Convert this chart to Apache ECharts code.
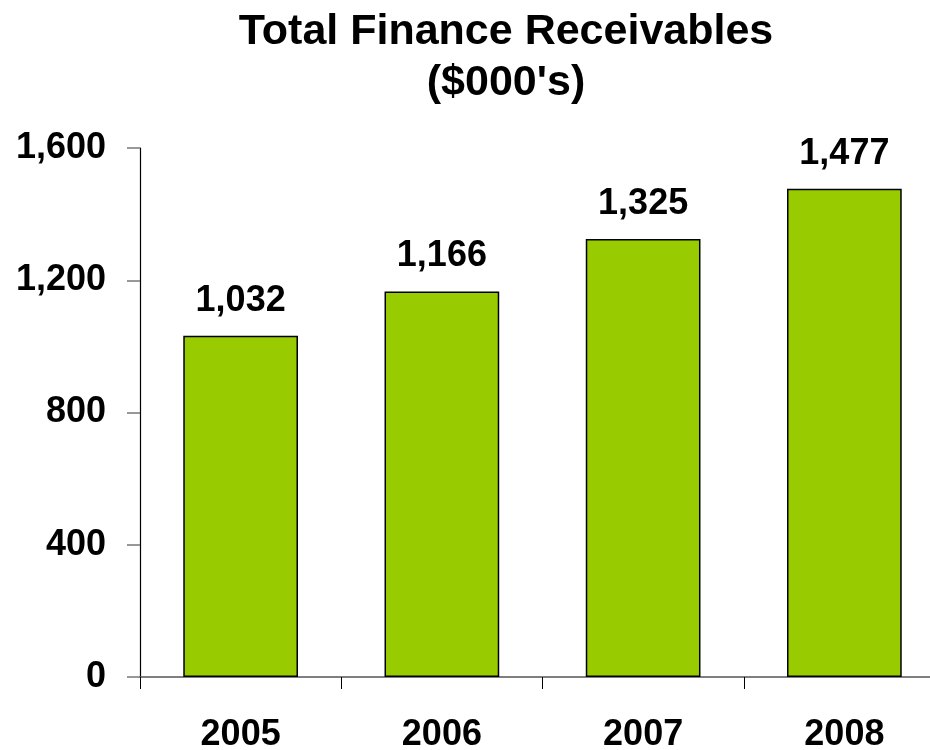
<!DOCTYPE html>
<html>
<head>
<meta charset="utf-8">
<script src="https://cdn.jsdelivr.net/npm/echarts@6/dist/echarts.min.js"></script>
<style>html,body{margin:0;padding:0;background:#fff}#c{width:930px;height:750px}</style>
</head>
<body>
<div id="c"></div>
<script>
const categories = ['2005', '2006', '2007', '2008'];
const values = [1032, 1166, 1325, 1477];
const titleText = 'Total Finance Receivables';
const subtitleText = "($000's)";

const FONT = '"Liberation Sans", Arial, sans-serif';
const chart = echarts.init(document.getElementById('c'));
chart.setOption({
  backgroundColor: '#fff',
  animation: false,
  title: {
    text: titleText,
    subtext: subtitleText,
    left: 501,
    top: 2,
    textAlign: 'center',
    itemGap: 1,
    textStyle: { fontFamily: FONT, fontWeight: 'bold', fontSize: 43, lineHeight: 50, color: '#000' },
    subtextStyle: { fontFamily: FONT, fontWeight: 'bold', fontSize: 43, lineHeight: 50, color: '#000' }
  },
  grid: { left: 140, top: 148, width: 805, height: 529, outerBoundsMode: 'none', containLabel: false },
  xAxis: {
    type: 'category',
    data: categories,
    axisLine: { lineStyle: { color: '#555', width: 1.5 } },
    axisTick: { show: true, length: 12, lineStyle: { color: '#000', width: 1 } },
    axisLabel: { margin: 40, fontFamily: FONT, fontWeight: 'bold', fontSize: 36, color: '#000' }
  },
  yAxis: {
    type: 'value',
    min: 0, max: 1600, interval: 400,
    splitLine: { show: false },
    axisLine: { show: true, lineStyle: { color: '#000', width: 1.2 } },
    axisTick: { show: true, length: 13, lineStyle: { color: '#777', width: 1.5 } },
    axisLabel: {
      margin: 34, fontFamily: FONT, fontWeight: 'bold', fontSize: 36, color: '#000',
      formatter: v => v.toLocaleString('en-US')
    }
  },
  series: [{
    type: 'bar',
    data: values,
    barWidth: '57%',
    itemStyle: { color: '#99CC00', borderColor: '#000', borderWidth: 1.5 },
    label: {
      show: true, position: 'top', distance: 17,
      fontFamily: FONT, fontWeight: 'bold', fontSize: 36, color: '#000',
      formatter: p => p.value.toLocaleString('en-US')
    }
  }]
});
</script>
</body>
</html>
